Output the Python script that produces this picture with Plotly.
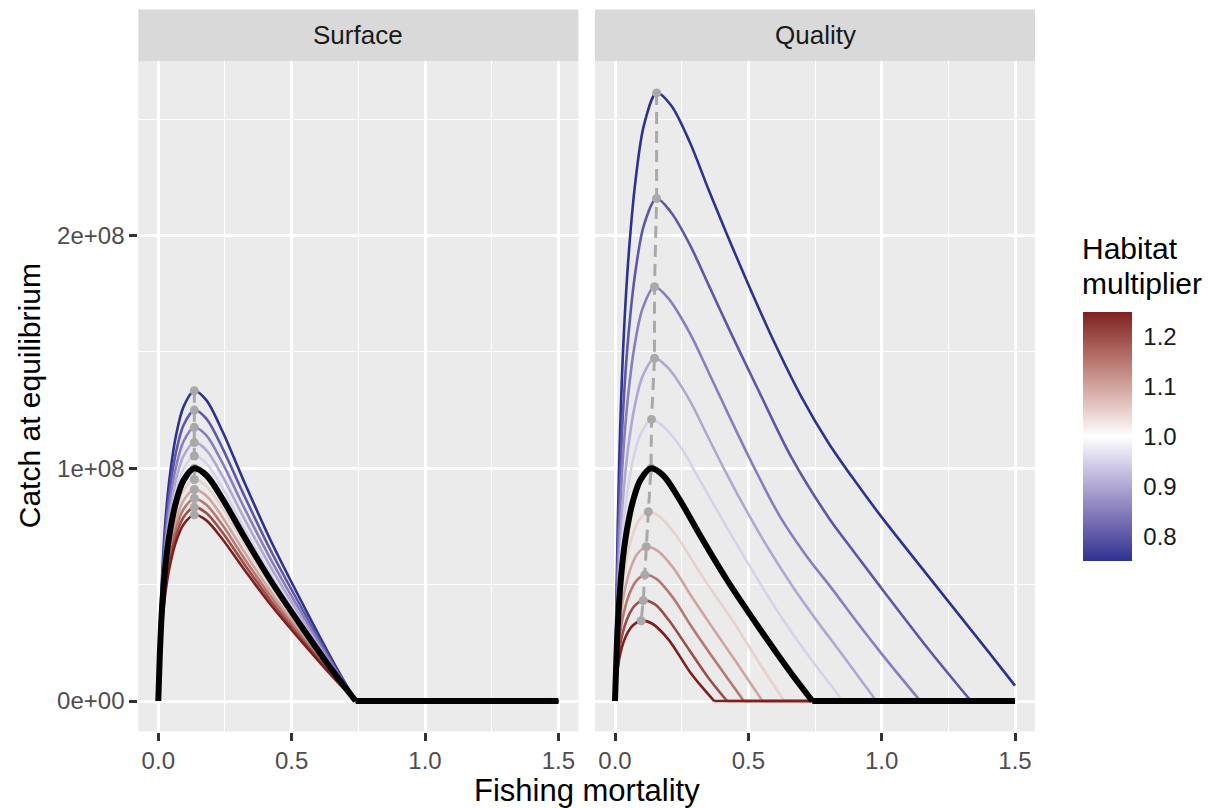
import plotly.graph_objects as go
from plotly.colors import sample_colorscale

# ---------------- data (catch in units of 1e8) ----------------
habitat = [0.75, 0.80, 0.85, 0.90, 0.95, 1.00, 1.05, 1.10, 1.15, 1.20, 1.25]

# Surface panel: all curves share one fishing-mortality grid
surface_F = [0, 0.0054, 0.0135, 0.027, 0.0446, 0.0675, 0.0945, 0.135, 0.18, 0.24, 0.32, 0.42, 0.54, 0.66, 0.74, 1.5]
surface_C_075 = [0, 0.253, 0.520, 0.780, 0.980, 1.147, 1.264, 1.333, 1.293, 1.160, 0.947, 0.693, 0.420, 0.160, 0, 0]
surface_C_080 = [0, 0.238, 0.488, 0.731, 0.919, 1.075, 1.185, 1.250, 1.213, 1.088, 0.888, 0.650, 0.394, 0.150, 0, 0]
surface_C_085 = [0, 0.224, 0.459, 0.688, 0.865, 1.012, 1.115, 1.176, 1.141, 1.024, 0.835, 0.612, 0.371, 0.141, 0, 0]
surface_C_090 = [0, 0.211, 0.433, 0.650, 0.817, 0.956, 1.053, 1.111, 1.078, 0.967, 0.789, 0.578, 0.350, 0.133, 0, 0]
surface_C_095 = [0, 0.200, 0.411, 0.616, 0.774, 0.905, 0.998, 1.053, 1.021, 0.916, 0.747, 0.547, 0.332, 0.126, 0, 0]
surface_C_100 = [0, 0.190, 0.390, 0.585, 0.735, 0.860, 0.948, 1.000, 0.970, 0.870, 0.710, 0.520, 0.315, 0.120, 0, 0]
surface_C_105 = [0, 0.181, 0.371, 0.557, 0.700, 0.819, 0.903, 0.952, 0.924, 0.829, 0.676, 0.495, 0.300, 0.114, 0, 0]
surface_C_110 = [0, 0.173, 0.355, 0.532, 0.668, 0.782, 0.862, 0.909, 0.882, 0.791, 0.645, 0.473, 0.286, 0.109, 0, 0]
surface_C_115 = [0, 0.165, 0.339, 0.509, 0.639, 0.748, 0.824, 0.870, 0.843, 0.757, 0.617, 0.452, 0.274, 0.104, 0, 0]
surface_C_120 = [0, 0.158, 0.325, 0.488, 0.613, 0.717, 0.790, 0.833, 0.808, 0.725, 0.592, 0.433, 0.263, 0.100, 0, 0]
surface_C_125 = [0, 0.152, 0.312, 0.468, 0.588, 0.688, 0.758, 0.800, 0.776, 0.696, 0.568, 0.416, 0.252, 0.096, 0, 0]

# Quality panel: each curve read on its own grid
quality_F_075 = [0, 0.0062, 0.0156, 0.0312, 0.0515, 0.078, 0.109, 0.156, 0.21, 0.281, 0.35, 0.42, 0.5, 0.6, 0.7, 0.8, 0.9, 1.0, 1.2, 1.4, 1.5]
quality_C_075 = [0, 0.496, 1.019, 1.529, 1.921, 2.247, 2.477, 2.613, 2.56, 2.40, 2.20, 2.005, 1.79, 1.535, 1.305, 1.11, 0.945, 0.79, 0.50, 0.212, 0.066]
quality_F_080 = [0, 0.0062, 0.0156, 0.0312, 0.0515, 0.078, 0.109, 0.156, 0.21, 0.281, 0.35, 0.433, 0.54, 0.66, 0.8, 0.9, 0.989, 1.181, 1.335, 1.5]
quality_C_080 = [0, 0.41, 0.842, 1.263, 1.587, 1.857, 2.047, 2.159, 2.10, 1.96, 1.79, 1.585, 1.33, 1.05, 0.79, 0.635, 0.50, 0.215, 0, 0]
quality_F_085 = [0, 0.0059, 0.0148, 0.0296, 0.0488, 0.074, 0.1036, 0.148, 0.2, 0.281, 0.35, 0.43, 0.521, 0.62, 0.72, 0.812, 0.9, 0.997, 1.145, 1.5]
quality_C_085 = [0, 0.338, 0.694, 1.041, 1.308, 1.531, 1.687, 1.78, 1.73, 1.58, 1.415, 1.22, 1.005, 0.79, 0.62, 0.485, 0.35, 0.207, 0, 0]
quality_F_090 = [0, 0.0059, 0.0148, 0.0296, 0.0488, 0.074, 0.1036, 0.148, 0.2, 0.281, 0.34, 0.408, 0.48, 0.57, 0.673, 0.76, 0.847, 0.98, 1.5]
quality_C_090 = [0, 0.28, 0.574, 0.862, 1.083, 1.267, 1.396, 1.473, 1.43, 1.29, 1.155, 1.0, 0.845, 0.665, 0.48, 0.34, 0.207, 0, 0]
quality_F_095 = [0, 0.0055, 0.0137, 0.0274, 0.0452, 0.0685, 0.0959, 0.137, 0.19, 0.25, 0.32, 0.42, 0.547, 0.63, 0.717, 0.855, 1.5]
quality_C_095 = [0, 0.23, 0.472, 0.708, 0.889, 1.041, 1.147, 1.21, 1.17, 1.085, 0.945, 0.745, 0.5, 0.35, 0.207, 0, 0]
quality_F_100 = [0, 0.0054, 0.0135, 0.027, 0.0446, 0.0675, 0.0945, 0.135, 0.18, 0.24, 0.32, 0.42, 0.54, 0.66, 0.74, 1.5]
quality_C_100 = [0, 0.190, 0.390, 0.585, 0.735, 0.860, 0.948, 1.000, 0.970, 0.870, 0.710, 0.520, 0.315, 0.120, 0, 0]
quality_F_105 = [0, 0.005, 0.0125, 0.025, 0.0413, 0.0625, 0.0875, 0.125, 0.17, 0.23, 0.281, 0.345, 0.45, 0.54, 0.635, 1.5]
quality_C_105 = [0, 0.154, 0.317, 0.476, 0.598, 0.699, 0.771, 0.813, 0.79, 0.71, 0.62, 0.505, 0.33, 0.165, 0, 0]
quality_F_110 = [0, 0.0047, 0.0117, 0.0234, 0.0386, 0.0585, 0.0819, 0.117, 0.16, 0.22, 0.281, 0.36, 0.45, 0.553, 1.5]
quality_C_110 = [0, 0.126, 0.259, 0.388, 0.487, 0.57, 0.629, 0.663, 0.645, 0.57, 0.46, 0.325, 0.175, 0, 0]
quality_F_115 = [0, 0.0045, 0.0112, 0.0224, 0.037, 0.056, 0.0784, 0.112, 0.155, 0.22, 0.281, 0.38, 0.483, 1.5]
quality_C_115 = [0, 0.103, 0.211, 0.317, 0.398, 0.466, 0.514, 0.542, 0.525, 0.44, 0.33, 0.165, 0, 0]
quality_F_120 = [0, 0.0042, 0.0106, 0.0212, 0.035, 0.053, 0.0742, 0.106, 0.15, 0.2, 0.281, 0.35, 0.42, 1.5]
quality_C_120 = [0, 0.082, 0.168, 0.253, 0.318, 0.372, 0.41, 0.432, 0.415, 0.35, 0.215, 0.1, 0, 0]
quality_F_125 = [0, 0.0039, 0.0098, 0.0196, 0.0323, 0.049, 0.0686, 0.098, 0.14, 0.2, 0.281, 0.33, 0.372, 1.5]
quality_C_125 = [0, 0.066, 0.135, 0.202, 0.254, 0.297, 0.327, 0.345, 0.332, 0.265, 0.125, 0.055, 0, 0]

# Maximum-catch points (grey dashed path)
surface_msy_F = [0.135, 0.135, 0.135, 0.135, 0.135, 0.135, 0.135, 0.135, 0.135, 0.135, 0.135]
surface_msy_C = [1.333, 1.250, 1.176, 1.111, 1.053, 1.000, 0.952, 0.909, 0.870, 0.833, 0.800]
quality_msy_F = [0.156, 0.156, 0.148, 0.148, 0.137, 0.135, 0.125, 0.117, 0.112, 0.106, 0.098]
quality_msy_C = [2.613, 2.159, 1.780, 1.473, 1.210, 1.000, 0.813, 0.663, 0.542, 0.432, 0.345]

x_tickvals = [0, 0.5, 1.0, 1.5]
x_ticktext = ["0.0", "0.5", "1.0", "1.5"]
y_tickvals = [0, 1, 2]
y_ticktext = ["0e+00", "1e+08", "2e+08"]
cb_tickvals = [0.8, 0.9, 1.0, 1.1, 1.2]
cb_ticktext = ["0.8", "0.9", "1.0", "1.1", "1.2"]

surface_curves = [(surface_F, c) for c in [surface_C_075, surface_C_080, surface_C_085, surface_C_090, surface_C_095,
                                             surface_C_100, surface_C_105, surface_C_110, surface_C_115, surface_C_120, surface_C_125]]
quality_curves = [(quality_F_075, quality_C_075), (quality_F_080, quality_C_080), (quality_F_085, quality_C_085),
                  (quality_F_090, quality_C_090), (quality_F_095, quality_C_095), (quality_F_100, quality_C_100),
                  (quality_F_105, quality_C_105), (quality_F_110, quality_C_110), (quality_F_115, quality_C_115),
                  (quality_F_120, quality_C_120), (quality_F_125, quality_C_125)]

# ---------------- style ----------------
W, H = 1220, 808
FONT = "Liberation Sans, Arial, sans-serif"
colorscale = [[0.0, "rgb(45,50,145)"], [0.125, "rgb(105,96,172)"], [0.25, "rgb(156,146,200)"],
              [0.375, "rgb(205,199,228)"], [0.5, "rgb(255,255,255)"], [0.625, "rgb(228,197,193)"],
              [0.75, "rgb(198,142,135)"], [0.875, "rgb(164,88,81)"], [1.0, "rgb(127,32,32)"]]
hmin, hmax = 0.75, 1.25

# pixel layout (ggplot-like facets)
left_px = (138.3, 578.4)
right_px = (595.0, 1035.0)
top_px, bottom_px = 61.0, 731.5
strip_top_px = 9.5


def px_x(p):
    return p / W


def px_y(p):
    return 1 - p / H


fig = go.Figure()


def add_curve(F, C, color, width, xa, ya):
    k = len(C) - 1
    for i in range(1, len(C)):
        if C[i] == 0 and C[i - 1] > 0:
            k = i
            break
    fig.add_trace(go.Scatter(x=F[:k + 1], y=C[:k + 1], mode="lines",
                             line=dict(color=color, width=width, shape="spline", smoothing=0.9),
                             xaxis=xa, yaxis=ya, showlegend=False, hoverinfo="skip"))
    if k < len(C) - 1:
        fig.add_trace(go.Scatter(x=F[k:], y=C[k:], mode="lines",
                                 line=dict(color=color, width=width),
                                 xaxis=xa, yaxis=ya, showlegend=False, hoverinfo="skip"))


line_colors = sample_colorscale(colorscale, [(h - hmin) / (hmax - hmin) for h in habitat])

for curves, msyF, msyC, xa, ya in [(surface_curves, surface_msy_F, surface_msy_C, "x", "y"),
                                   (quality_curves, quality_msy_F, quality_msy_C, "x2", "y2")]:
    for h, (F, C), col in zip(habitat, curves, line_colors):
        if h == 1.0:
            continue
        add_curve(F, C, col, 2.6, xa, ya)
    fig.add_trace(go.Scatter(x=msyF, y=msyC, mode="lines+markers",
                             line=dict(color="#A9A9A9", width=3, dash="12px,7px"),
                             marker=dict(color="#A9A9A9", size=9),
                             xaxis=xa, yaxis=ya, showlegend=False, hoverinfo="skip"))
    for h, (F, C) in zip(habitat, curves):
        if h == 1.0:
            add_curve(F, C, "black", 6, xa, ya)

# colour bar carrier
cb_top, cb_bottom = 312.0, 561.0
cb_left, cb_right = 1083.0, 1132.0
fig.add_trace(go.Scatter(x=[0.5], y=[0.5], mode="markers", xaxis="x", yaxis="y",
                         marker=dict(color=[1.0], colorscale=colorscale, cmin=hmin, cmax=hmax, opacity=0,
                                     showscale=True,
                                     colorbar=dict(thickness=cb_right - cb_left, thicknessmode="pixels",
                                                   len=cb_bottom - cb_top, lenmode="pixels",
                                                   x=px_x(cb_left), xanchor="left", xpad=0,
                                                   y=px_y((cb_top + cb_bottom) / 2), yanchor="middle", ypad=0,
                                                   outlinewidth=0, tickvals=cb_tickvals, ticktext=cb_ticktext,
                                                   ticks="outside", ticklen=7, tickwidth=1,
                                                   tickcolor="rgba(0,0,0,0)",
                                                   tickfont=dict(size=24, color="#1A1A1A", family=FONT))),
                         showlegend=False, hoverinfo="skip"))

axis_common = dict(showgrid=True, gridcolor="white", gridwidth=2.8, zeroline=False, showline=False,
                   ticks="outside", ticklen=8, tickwidth=2.5, tickcolor="#333333",
                   tickfont=dict(size=24, color="#4D4D4D", family=FONT))
xcommon = dict(axis_common, range=[-0.075, 1.575], tickvals=x_tickvals, ticktext=x_ticktext,
               minor=dict(tickvals=[0.25, 0.75, 1.25], showgrid=True, gridcolor="white", gridwidth=1.3))
ycommon = dict(axis_common, range=[-0.131, 2.75], tickvals=y_tickvals, ticktext=y_ticktext,
               minor=dict(tickvals=[0.5, 1.5, 2.5], showgrid=True, gridcolor="white", gridwidth=1.3))

shapes = []
annotations = []
for (x0, x1), label in [(left_px, "Surface"), (right_px, "Quality")]:
    shapes.append(dict(type="rect", xref="paper", yref="paper", x0=px_x(x0), x1=px_x(x1),
                       y0=px_y(top_px), y1=px_y(strip_top_px), fillcolor="#D9D9D9", line=dict(width=0)))
    annotations.append(dict(text=label, xref="paper", yref="paper", x=px_x((x0 + x1) / 2),
                            y=px_y((top_px + strip_top_px) / 2), xanchor="center", yanchor="middle",
                            showarrow=False, font=dict(size=26, color="#1A1A1A", family=FONT)))

# white tick marks on both edges of the colour bar (ggplot style)
for v in cb_tickvals:
    yp = cb_bottom - (v - hmin) / (hmax - hmin) * (cb_bottom - cb_top)
    for xa0, xa1 in [(cb_left, cb_left + 10), (cb_right - 10, cb_right)]:
        shapes.append(dict(type="line", xref="paper", yref="paper", x0=px_x(xa0), x1=px_x(xa1),
                           y0=px_y(yp), y1=px_y(yp), line=dict(color="white", width=1.5)))

annotations += [
    dict(text="Fishing mortality", xref="paper", yref="paper", x=px_x((left_px[0] + right_px[1]) / 2),
         y=px_y(790), xanchor="center", yanchor="middle", showarrow=False,
         font=dict(size=31, color="black", family=FONT)),
    dict(text="Catch at equilibrium", xref="paper", yref="paper", x=px_x(29), y=px_y((top_px + bottom_px) / 2),
         xanchor="center", yanchor="middle", textangle=-90, showarrow=False,
         font=dict(size=30, color="black", family=FONT)),
    dict(text="Habitat", xref="paper", yref="paper", x=px_x(1080), y=px_y(249), xanchor="left",
         yanchor="middle", showarrow=False, font=dict(size=30, color="black", family=FONT)),
    dict(text="multiplier", xref="paper", yref="paper", x=px_x(1080), y=px_y(283), xanchor="left",
         yanchor="middle", showarrow=False, font=dict(size=30, color="black", family=FONT)),
]

fig.update_layout(
    width=W, height=H, autosize=False,
    margin=dict(l=0, r=0, t=0, b=0),
    paper_bgcolor="white", plot_bgcolor="#EBEBEB",
    font=dict(family=FONT),
    xaxis=dict(xcommon, domain=[px_x(left_px[0]), px_x(left_px[1])], anchor="y"),
    xaxis2=dict(xcommon, domain=[px_x(right_px[0]), px_x(right_px[1])], anchor="y2"),
    yaxis=dict(ycommon, domain=[px_y(bottom_px), px_y(top_px)], anchor="x"),
    yaxis2=dict(ycommon, domain=[px_y(bottom_px), px_y(top_px)], anchor="x2", showticklabels=False,
                ticks=""),
    shapes=shapes, annotations=annotations,
    showlegend=False,
)

fig.write_html("out.html", config={"displayModeBar": False},
               post_script="document.body.style.margin='0';")
